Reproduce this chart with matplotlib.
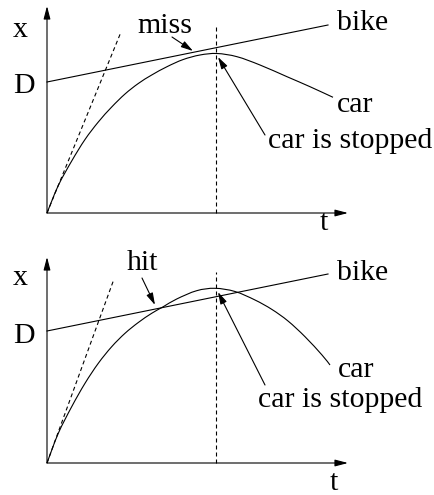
import matplotlib
matplotlib.use('Agg')
import matplotlib.pyplot as plt
from matplotlib.path import Path
from matplotlib.patches import PathPatch

# car position, top panel (miss)
car_t_miss = [0, 11.3, 24.7, 38, 51.3, 64.7, 78, 91.3, 104.7, 120, 136, 153, 170, 190, 213, 240, 263, 286]
car_x_miss = [0, 27.5, 52, 73.5, 91, 106, 119, 129.5, 138, 146.3, 153.4, 158, 159.5, 156.3, 148, 136.3, 126.3, 115.7]
# car position, bottom panel (hit)
car_t_hit = [0, 11.3, 24.7, 38, 51.3, 64.7, 78, 91.3, 104.7, 116.3, 129.7, 149.7, 168, 188, 208, 225, 241, 258, 275, 283]
car_x_hit = [0, 29.7, 56.3, 79.7, 99.7, 116.3, 129.7, 140.5, 149.7, 156.3, 164, 172.3, 174.7, 171.5, 163, 153.5, 142, 126.3, 108, 98]
# bike line (start, end)
bike_t = [0, 281]
bike_x_miss = [131, 188]
bike_x_hit = [132, 189]
# initial-slope tangent (dashed)
tan_t_miss = [0, 74]
tan_x_miss = [0, 181]
tan_t_hit = [0, 67]
tan_x_hit = [0, 184]
# time at which the car stops
t_stop = 169
stop_top_miss = 188
stop_top_hit = 191

font = 'Liberation Serif'
fs = 21.5
lw = 0.8
dash = (0, (3.6, 2.7))

fig = plt.figure(figsize=(4.35, 4.95), dpi=100)


def smooth_path(ts, xs):
	# cubic bezier segments through the read points (catmull-rom tangents)
	pts = list(zip(ts, xs))
	verts = [pts[0]]
	codes = [Path.MOVETO]
	n = len(pts)
	for i in range(n - 1):
		p0 = pts[max(i - 1, 0)]
		p1 = pts[i]
		p2 = pts[i + 1]
		p3 = pts[min(i + 2, n - 1)]
		c1 = (p1[0] + (p2[0] - p0[0]) / 6, p1[1] + (p2[1] - p0[1]) / 6)
		c2 = (p2[0] - (p3[0] - p1[0]) / 6, p2[1] - (p3[1] - p1[1]) / 6)
		verts += [c1, c2, p2]
		codes += [Path.CURVE4] * 3
	return Path(verts, codes)


def axis_arrow(ax, x0, y0, x1, y1):
	ax.annotate('', xy=(x1, y1), xytext=(x0, y0),
		arrowprops=dict(arrowstyle='-|>,head_length=0.65,head_width=0.17', mutation_scale=12,
			lw=lw, color='k', shrinkA=0, shrinkB=0))


def pointer(ax, x0, y0, x1, y1):
	ax.annotate('', xy=(x1, y1), xytext=(x0, y0),
		arrowprops=dict(arrowstyle='-|>,head_length=0.6,head_width=0.17', mutation_scale=12,
			lw=lw, color='k', shrinkA=0, shrinkB=0))


def panel(rect, ylim, car_t, car_x, bike_x, tan_t, tan_x, stop_top, ytip, word, word_pos, word_arrow,
		stop_arrow, car_pos, stopped_pos, t_pos, x_pos):
	ax = fig.add_axes(rect)
	ax.set_xlim(-47, 388)
	ax.set_ylim(*ylim)
	ax.axis('off')

	# axes with arrow heads
	axis_arrow(ax, 0, 0, 0, ytip)
	axis_arrow(ax, 0, 0, 301, 0)

	ax.add_patch(PathPatch(smooth_path(car_t, car_x), fill=False, edgecolor='k', lw=lw))
	ax.plot(bike_t, bike_x, 'k-', lw=lw)
	ax.plot(tan_t, tan_x, 'k', lw=lw, linestyle=dash)
	ax.plot([t_stop, t_stop], [0, stop_top], 'k', lw=lw, linestyle=dash)

	pointer(ax, *word_arrow)
	pointer(ax, *stop_arrow)

	kw = dict(fontsize=fs, family=font, ha='left', va='baseline')
	ax.text(x_pos[0], x_pos[1], 'x', **kw)
	ax.text(-34, 120, 'D', **kw)
	ax.text(t_pos[0], t_pos[1], 't', **kw)
	ax.text(word_pos[0], word_pos[1], word, **kw)
	ax.text(290, 183, 'bike', **kw)
	ax.text(car_pos[0], car_pos[1], 'car', **kw)
	ax.text(stopped_pos[0], stopped_pos[1], 'car is stopped', **kw)
	return ax


# top: miss
panel([0, 250 / 495, 1, 245 / 495], (-32, 213), car_t_miss, car_x_miss, bike_x_miss,
	tan_t_miss, tan_x_miss, stop_top_miss, 207, 'miss', (90, 180), (125, 176, 146, 162),
	(218, 78, 171, 156), (290, 101), (221, 65), (273, -17), (-34, 176))

# bottom: hit
panel([0, 0, 1, 250 / 495], (-32, 218), car_t_hit, car_x_hit, bike_x_hit,
	tan_t_hit, tan_x_hit, stop_top_hit, 206, 'hit', (80, 193), (95, 185, 108, 158),
	(218, 78, 171, 171), (291, 86), (211, 56), (283, -27), (-34, 178))

plt.savefig('out.png', dpi=100)
